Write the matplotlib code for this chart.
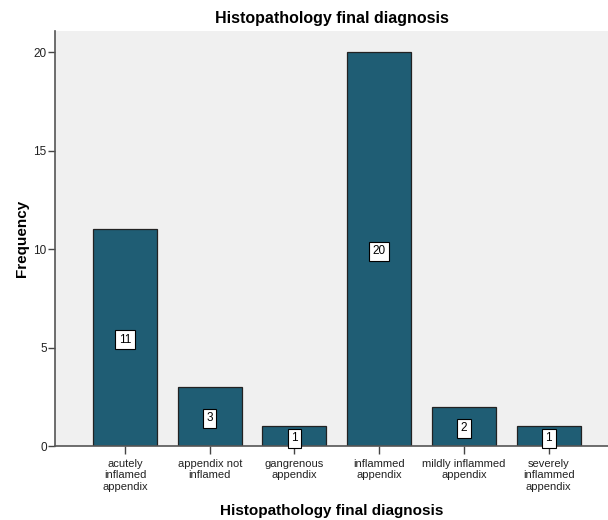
import matplotlib
matplotlib.use("Agg")
import matplotlib.pyplot as plt

categories = ["acutely\ninflamed\nappendix", "appendix not\ninflamed", "gangrenous\nappendix",
              "inflammed\nappendix", "mildly inflammed\nappendix", "severely\ninflammed\nappendix"]
counts = [11, 3, 1, 20, 2, 1]
yticks = [0, 5, 10, 15, 20]

plt.rcParams["font.family"] = ["Liberation Sans", "DejaVu Sans"]

fig = plt.figure(figsize=(6.08, 5.2), dpi=100)
ax = fig.add_axes([0.0905, 0.1423, 0.9095, 0.7977])
ax.set_facecolor("#F0F0F0")

x = list(range(len(counts)))
ax.bar(x, counts, width=0.755, color="#1F5D74", edgecolor="#222222", linewidth=0.9, zorder=2)

for xi, v in zip(x, counts):
    ax.text(xi, v / 2 - 0.1, str(v), ha="center", va="center", fontsize=8.5, color="black",
            bbox=dict(boxstyle="square,pad=0.3", facecolor="white", edgecolor="black", linewidth=0.8),
            zorder=3)

ax.set_xlim(-0.825, 5.70)
ax.set_ylim(0, 21.07)
ax.set_yticks(yticks)
ax.set_xticks(x)
ax.set_xticklabels(categories, fontsize=8, color="#222222", linespacing=1.15)
ax.tick_params(axis="y", labelsize=8.5, colors="#444444", labelcolor="#222222", length=5, width=1, pad=1)
ax.tick_params(axis="x", length=6, width=1, colors="#444444", labelcolor="#222222")

for side in ["top", "right"]:
    ax.spines[side].set_visible(False)
for side in ["left", "bottom"]:
    ax.spines[side].set_color("#555555")
    ax.spines[side].set_linewidth(1.2)

ax.set_title("Histopathology final diagnosis", fontsize=11.5, fontweight="bold", pad=6)
ax.set_ylabel("Frequency", fontsize=11, fontweight="bold", labelpad=3)
ax.set_xlabel("Histopathology final diagnosis", fontsize=11, fontweight="bold", labelpad=9)

fig.savefig("out.png", dpi=100)
